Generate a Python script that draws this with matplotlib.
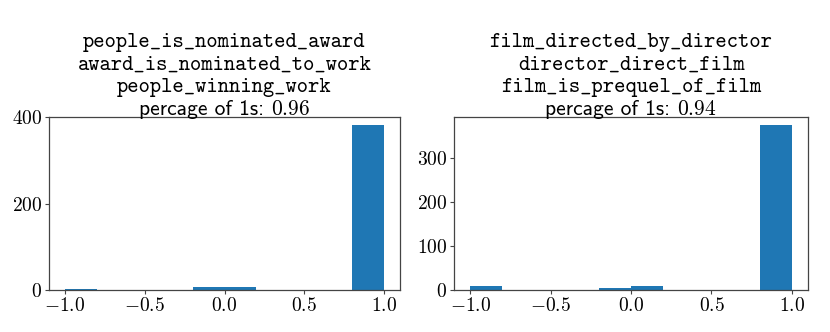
import os
import numpy as np
import matplotlib
matplotlib.use("Agg")
import matplotlib.pyplot as plt
from matplotlib import font_manager

plt.rcParams["mathtext.fontset"] = "cm"
plt.rcParams["font.family"] = "serif"
plt.rcParams["font.serif"] = ["cmr10"]
plt.rcParams["axes.formatter.use_mathtext"] = True

ttf_dir = os.path.join(matplotlib.get_data_path(), "fonts", "ttf")
for name in ["cmtt10.ttf", "cmss10.ttf"]:
    font_manager.fontManager.addfont(os.path.join(ttf_dir, name))

# histogram bins (10 bins on [-1, 1]) and counts
bin_edges = np.linspace(-1, 1, 11)
left_counts = [2, 0, 0, 0, 7, 7, 0, 0, 0, 382]
right_counts = [9, 0, 0, 0, 5, 9, 0, 0, 0, 375]

left_relations = ["people_is_nominated_award", "award_is_nominated_to_work", "people_winning_work"]
right_relations = ["film_directed_by_director", "director_direct_film", "film_is_prequel_of_film"]
left_share = "0.96"
right_share = "0.94"

left_yticks = [0, 200, 400]
right_yticks = [0, 100, 200, 300]
xticks = [-1.0, -0.5, 0.0, 0.5, 1.0]

FS = 15.5
BASE = 1.5      # points between axes top and last title baseline
STEP = 16.2     # points between title lines


def draw_title(ax, relations, share, renderer):
    kw = dict(xy=(0.5, 1.0), xycoords="axes fraction", textcoords="offset points",
              va="baseline", fontsize=FS)
    label = ax.annotate("percage of 1s:", xytext=(0, BASE), ha="left", family="cmss10", **kw)
    number = ax.annotate("$" + share + "$", xytext=(0, BASE), ha="left", **kw)
    w1 = label.get_window_extent(renderer).width * 72 / ax.figure.dpi
    w2 = number.get_window_extent(renderer).width * 72 / ax.figure.dpi
    gap = 5.0
    start = -(w1 + gap + w2) / 2
    label.set_position((start, BASE))
    number.set_position((start + w1 + gap, BASE))
    for i, rel in enumerate(reversed(relations)):
        ax.annotate(rel, xytext=(0, BASE + STEP * (i + 1)), ha="center", family="cmtt10", **kw)


def draw(ax, counts, relations, share, yticks, renderer):
    ax.hist(bin_edges[:-1], bins=bin_edges, weights=counts, color="#1f77b4")
    ax.set_xticks(xticks)
    ax.set_xticklabels([f"${t:.1f}$" for t in xticks])
    ax.set_yticks(yticks)
    ax.set_yticklabels([f"${t}$" for t in yticks])
    ax.tick_params(labelsize=14, length=3, color="#444444", pad=2)
    for s in ax.spines.values():
        s.set_color("#444444")
        s.set_linewidth(0.9)
    draw_title(ax, relations, share, renderer)


fig = plt.figure(figsize=(8.3, 3.32), dpi=100)
renderer = fig.canvas.get_renderer()
ax1 = fig.add_axes([49 / 830, 42 / 332, 351 / 830, 173 / 332])
ax2 = fig.add_axes([454 / 830, 42 / 332, 354 / 830, 173 / 332])

draw(ax1, left_counts, left_relations, left_share, left_yticks, renderer)
draw(ax2, right_counts, right_relations, right_share, right_yticks, renderer)

fig.savefig("out.png", dpi=100)
